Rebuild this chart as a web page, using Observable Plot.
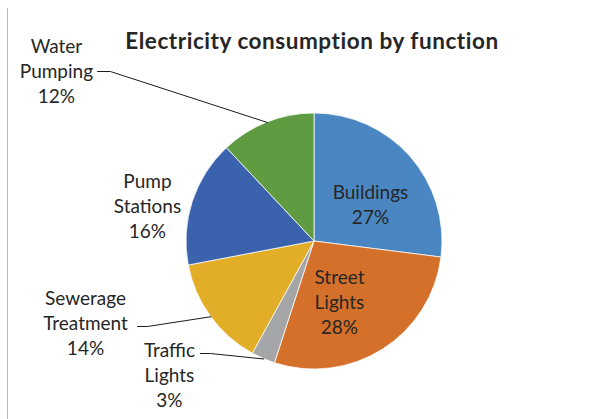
<!DOCTYPE html>
<html>
<head>
<meta charset="utf-8">
<script src="https://cdn.jsdelivr.net/npm/d3@7"></script>
<script src="https://cdn.jsdelivr.net/npm/@observablehq/plot@0.6"></script>
<style>
  html, body { margin: 0; padding: 0; background: #fff; }
  #wrap { position: relative; width: 614px; height: 419px; overflow: hidden; }
  #title { position: absolute; left: 0; width: 624px; top: 27px; text-align: center;
           font: bold 22.5px Lato, "Open Sans", sans-serif; letter-spacing: 0.55px; color: #262626; white-space: nowrap; }
  #edge { position: absolute; left: 7px; top: 8px; width: 1px; height: 420px; background: #b8b8b8; }
  #chart { position: absolute; left: 0; top: 0; }
</style>
</head>
<body>
<div id="wrap">
  <div id="chart"></div>
  <div id="edge"></div>
  <div id="title">Electricity consumption by function</div>
</div>
<script>
// ---- data ----
const categories = ["Buildings", "Street Lights", "Traffic Lights", "Sewerage Treatment", "Pump Stations", "Water Pumping"];
const labelLines = ["Buildings", "Street\nLights", "Traffic\nLights", "Sewerage\nTreatment", "Pump\nStations", "Water\nPumping"];
const shares = [27, 28, 3, 14, 16, 12];
const colors = ["#4a86c1", "#d5702b", "#a5a6a8", "#e2ad27", "#3b63ad", "#5f9b41"];

// ---- layout (label anchors in pie-radius units, relative to centre) ----
const labelAnchor = [[0.4375, 0.294], [0.195, -0.468], [-1.133, -1.038], [-1.789, -0.632], [-1.305, 0.282], [-2.016, 1.337]];
// leader lines: [label-side start, elbow] in pie-radius units (null = no leader)
const leaderStart = [null, null, [[-0.891, -0.875], [-0.813, -0.875]], [[-1.383, -0.664], [-1.305, -0.664]], null, [[-1.695, 1.328], [-1.594, 1.328]]];

const pie = d3.pie().sort(null).value(d => d.share).startAngle(0).endAngle(2 * Math.PI);
const rows = categories.map((c, i) => ({name: c, share: shares[i], color: colors[i], label: labelLines[i] + "\n" + shares[i] + "%", ax: labelAnchor[i][0], ay: labelAnchor[i][1]}));
const arcs = pie(rows);
arcs.forEach(a => { a.mid = (a.startAngle + a.endAngle) / 2; });

const leaders = [];
arcs.forEach((a, i) => {
  const s = leaderStart[i];
  if (!s) return;
  leaders.push({k: i, x: s[0][0], y: s[0][1]});
  leaders.push({k: i, x: s[1][0], y: s[1][1]});
  leaders.push({k: i, x: Math.sin(a.mid), y: Math.cos(a.mid)});
});

const pieMark = (index, scales) => {
  const cx = scales.x(0), cy = scales.y(0);
  const r = scales.x(1) - scales.x(0);
  const arc = d3.arc().innerRadius(0).outerRadius(r);
  const g = d3.create("svg:g").attr("transform", `translate(${cx},${cy})`);
  g.selectAll("path").data(arcs).join("path")
    .attr("d", arc)
    .attr("fill", d => d.data.color)
    .attr("stroke", "#fff")
    .attr("stroke-width", 0.75);
  return g.node();
};

const chart = Plot.plot({
  width: 614,
  height: 419,
  marginLeft: 186,
  marginRight: 172,
  marginTop: 113,
  marginBottom: 50,
  x: {domain: [-1, 1], axis: null},
  y: {domain: [-1, 1], axis: null},
  style: {background: "transparent", overflow: "visible"},
  marks: [
    pieMark,
    Plot.line(leaders, {x: "x", y: "y", z: "k", stroke: "#1a1a1a", strokeWidth: 1}),
    Plot.text(rows, {x: "ax", y: "ay", text: "label", fontSize: 19, lineHeight: 1.32,
      fontFamily: "Lato, 'Open Sans', sans-serif", fill: "#262626"})
  ]
});
document.getElementById("chart").appendChild(chart);
</script>
</body>
</html>
